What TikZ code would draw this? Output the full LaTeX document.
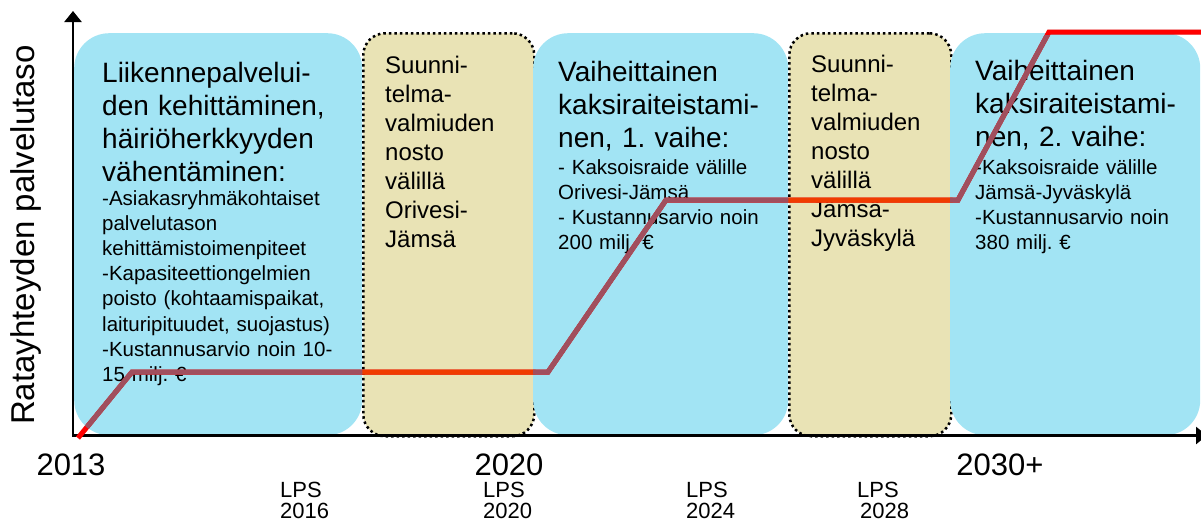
\documentclass[tikz,border=0pt]{standalone}
\usepackage{fontspec}
\setmainfont{Liberation Sans}
\usetikzlibrary{arrows.meta}
\frenchspacing
\definecolor{boxblue}{RGB}{162,228,244}
\definecolor{boxyellow}{RGB}{233,227,181}
\definecolor{linered}{RGB}{255,0,0}
\definecolor{lineorange}{RGB}{240,60,0}
\definecolor{linemauve}{RGB}{160,79,94}
\begin{document}
\begin{tikzpicture}[x=1pt,y=-1pt,
  bluebox/.style={fill=boxblue, draw=none, rounded corners=35pt, anchor=north west, inner sep=0pt, minimum height=402pt},
  yellowbox/.style={fill=boxyellow, draw=black, line width=2.5pt, dash pattern=on 2.5pt off 3pt, rounded corners=22pt, anchor=north west, inner sep=0pt, minimum height=403pt},
  titletext/.style={anchor=base west, inner sep=0pt, align=left, text width=300pt, font=\fontsize{28}{33.3}\selectfont\frenchspacing},
  detailtext/.style={anchor=base west, inner sep=0pt, align=left, text width=300pt, font=\fontsize{20.5}{25.2}\selectfont\frenchspacing},
  planttext/.style={anchor=base west, inner sep=0pt, align=left, text width=200pt, font=\fontsize{24}{29}\selectfont},
  lpstext/.style={anchor=base west, inner sep=0pt, align=left, text width=80pt, font=\fontsize{22}{21}\selectfont},
  yeartext/.style={anchor=base, inner sep=0pt, font=\fontsize{31}{36}\selectfont},
  axisline/.style={line width=2.5pt, -{Triangle[length=11pt,width=17pt]}},
  trend/.style={line width=5pt},
]
\useasboundingbox (0,0) rectangle (1201,523);

% boxes
\node[bluebox, minimum width=288pt] (b1) at (74,33) {};
\node[yellowbox, minimum width=171pt] (y1) at (362,32) {};
\node[bluebox, minimum width=255pt] (b2) at (533,33) {};
\node[yellowbox, minimum width=162pt] (y2) at (788,32) {};
\node[bluebox, minimum width=250pt] (b3) at (950,33) {};

% texts in boxes
\node[titletext] (b1t) at (102,82) {Liikennepalvelui-\\den kehittäminen,\\häiriöherkkyyden\\vähentäminen:};
\node[detailtext] (b1d) at (102,205) {-Asiakasryhmäkohtaiset\\palvelutason\\kehittämistoimenpiteet\\-Kapasiteettiongelmien\\poisto (kohtaamispaikat,\\laituripituudet, suojastus)\\-Kustannusarvio noin 10-\\15 milj. €};
\node[planttext] (y1t) at (385,73) {Suunni-\\telma-\\valmiuden\\nosto\\välillä\\Orivesi-\\Jämsä};
\node[titletext] (b2t) at (558,81) {Vaiheittainen\\kaksiraiteistami-\\nen, 1. vaihe:};
\node[detailtext] (b2d) at (558,174) {- Kaksoisraide välille\\Orivesi-Jämsä\\- Kustannusarvio noin\\200 milj. €};
\node[planttext] (y2t) at (811,72) {Suunni-\\telma-\\valmiuden\\nosto\\välillä\\Jämsä-\\Jyväskylä};
\node[titletext] (b3t) at (975,80) {Vaiheittainen\\kaksiraiteistami-\\nen, 2. vaihe:};
\node[detailtext] (b3d) at (975,174) {-Kaksoisraide välille\\Jämsä-Jyväskylä\\-Kustannusarvio noin\\380 milj. €};

% axes
\coordinate (origin) at (73,435.5);
\coordinate (ytip) at (73,11);
\coordinate (xtip) at (1207,435.5);
\draw[axisline] (origin |- 0,437) -- (ytip);
\draw[axisline] (origin) -- (xtip);

% axis labels
\node[rotate=90, anchor=base, inner sep=0pt, font=\fontsize{33}{38}\selectfont] (ylab) at (34,235) {Ratayhteyden palvelutaso};
\node[yeartext] (y2013) at (71,475) {2013};
\node[yeartext] (y2020) at (509,475) {2020};
\node[yeartext] (y2030) at (1000,475) {2030+};
\node[lpstext] (l2016) at (280,497) {LPS\\2016};
\node[lpstext] (l2020) at (483,497) {LPS\\2020};
\node[lpstext] (l2024) at (686,497) {LPS\\2024};
\node[lpstext] (l2028) at (857,497) {LPS\\\hspace*{3pt}2028};

% trend line
\coordinate (p0) at (78,438);
\coordinate (p1) at (132,372);
\coordinate (p2) at (548,372);
\coordinate (p3) at (666,200);
\coordinate (p4) at (958,200);
\coordinate (p5) at (1049,32);
\coordinate (p6) at (1212,32);
\draw[trend, black, opacity=0.18, shift={(2,3)}] (p0) -- (p1) -- (p2) -- (p3) -- (p4) -- (p5) -- (p6);
\draw[trend, linered] (p0) -- (p1) -- (p2) -- (p3) -- (p4) -- (p5) -- (p6);
\begin{scope}
  \clip[rounded corners=22pt] (y1.north west) rectangle (y1.south east) (y2.north west) rectangle (y2.south east);
  \draw[trend, lineorange] (p0) -- (p1) -- (p2) -- (p3) -- (p4) -- (p5) -- (p6);
\end{scope}
\begin{scope}
  \clip[rounded corners=35pt] (b1.north west) rectangle (b1.south east) (b2.north west) rectangle (b2.south east) (b3.north west) rectangle (b3.south east);
  \clip (0,35) rectangle (1201,523);
  \draw[trend, linemauve] (p0) -- (p1) -- (p2) -- (p3) -- (p4) -- (p5) -- (p6);
\end{scope}
\end{tikzpicture}
\end{document}
